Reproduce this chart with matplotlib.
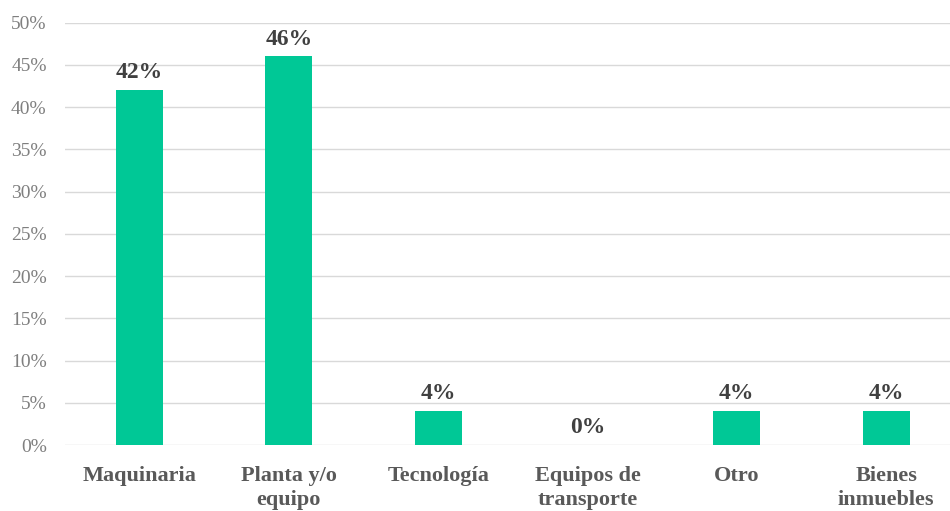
import matplotlib.pyplot as plt
import numpy as np

categorias = ['Maquinaria', 'Planta y/o\nequipo', 'Tecnología', 'Equipos de\ntransporte', 'Otro', 'Bienes\ninmuebles']
valores = [0.42, 0.46, 0.04, 0.00, 0.04, 0.04]
etiquetas = ['42%', '46%', '4%', '0%', '4%', '4%']
yticks = np.arange(0, 0.51, 0.05)

plt.rcParams['font.family'] = ['Liberation Serif', 'DejaVu Serif']

fig = plt.figure(figsize=(9.5, 5.11), dpi=100)
fig.patch.set_facecolor('white')
# the axis runs past the right edge, as in the cropped original
ax = fig.add_axes([64.8 / 950, 66 / 511, 896 / 950, 422.3 / 511])

x = np.arange(len(categorias))
ax.bar(x, valores, width=0.315, color='#00C896', zorder=3)

# value labels
for xi, v, t in zip(x, valores, etiquetas):
    ax.annotate(t, (xi, v), xytext=(0, 5), textcoords='offset points',
                ha='center', va='bottom', fontsize=17, fontweight='bold', color='#404040')

ax.set_xlim(-0.5, 5.5)
ax.set_ylim(0, 0.5)
ax.set_yticks(yticks)
ax.set_yticklabels([f'{int(round(t * 100))}%' for t in yticks], color='#7f7f7f', fontsize=14)
ax.set_xticks(x)
ax.set_xticklabels(categorias, fontsize=16, fontweight='bold', color='#595959', linespacing=1.3)

ax.yaxis.grid(color='#d9d9d9', linewidth=1, zorder=0)
ax.set_axisbelow(True)
for s in ['top', 'right', 'left', 'bottom']:
    ax.spines[s].set_visible(False)
ax.tick_params(axis='both', length=0)
ax.tick_params(axis='y', pad=13)
ax.tick_params(axis='x', pad=15)

plt.savefig('out.png', dpi=100, facecolor='white')
